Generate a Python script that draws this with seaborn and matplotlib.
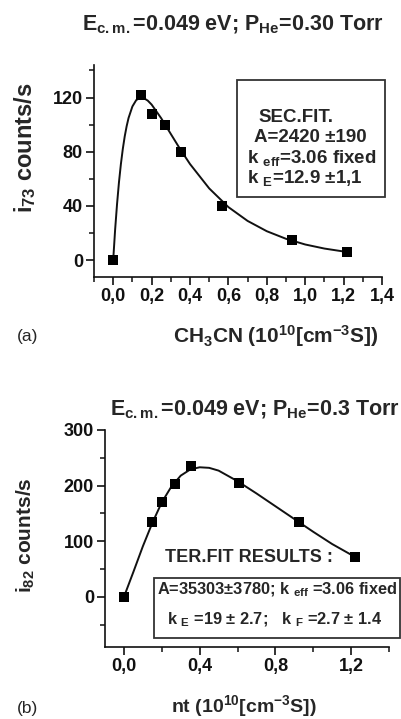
import matplotlib
matplotlib.use("Agg")
import matplotlib.pyplot as plt
import seaborn as sns
from matplotlib.patches import Rectangle
from matplotlib.ticker import MultipleLocator, FixedLocator

# ---------------- data ----------------
# panel (a)
a_x = [0.0, 0.145, 0.2, 0.27, 0.355, 0.565, 0.93, 1.22]
a_y = [0, 122, 108, 100, 80, 40, 15, 6]
a_fit_x = [0, 0.01, 0.02, 0.03, 0.04, 0.05, 0.06, 0.07, 0.08, 0.10, 0.12, 0.14, 0.16,
           0.18, 0.20, 0.25, 0.30, 0.35, 0.40, 0.50, 0.60, 0.70, 0.80, 0.90, 1.00, 1.10, 1.22]
a_fit_y = [0, 22.4, 41.3, 57.4, 70.8, 82.0, 91.3, 98.8, 104.9, 113.4, 118.1, 119.8, 119.5,
           117.7, 114.8, 104.7, 93.1, 81.6, 70.9, 52.9, 39.1, 28.9, 21.3, 15.7, 11.5, 8.5, 5.9]
a_xticks = [0.0, 0.2, 0.4, 0.6, 0.8, 1.0, 1.2, 1.4]
a_xticklabels = ["0,0", "0,2", "0,4", "0,6", "0,8", "1,0", "1,2", "1,4"]
a_yticks = [0, 40, 80, 120]

# panel (b)
b_x = [0.0, 0.15, 0.2, 0.27, 0.355, 0.61, 0.925, 1.22]
b_y = [0, 135, 171, 203, 235, 204, 135, 72]
b_fit_x = [0, 0.05, 0.10, 0.15, 0.20, 0.25, 0.30, 0.35, 0.40, 0.45, 0.50, 0.60,
           0.70, 0.80, 0.90, 1.00, 1.10, 1.22]
b_fit_y = [0, 45, 91, 133, 170, 198, 218, 229, 233, 232, 227, 208,
           186, 163, 140, 117, 95, 72]
b_xticks = [0.0, 0.4, 0.8, 1.2]
b_xticklabels = ["0,0", "0,4", "0,8", "1,2"]
b_yticks = [0, 100, 200, 300]

# ---------------- style ----------------
sns.set_style("ticks")
plt.rcParams["font.family"] = ["Liberation Sans", "DejaVu Sans"]
plt.rcParams["font.weight"] = "bold"
plt.rcParams["mathtext.fontset"] = "custom"
plt.rcParams["mathtext.rm"] = "Liberation Sans:bold"
plt.rcParams["mathtext.bf"] = "Liberation Sans:bold"
plt.rcParams["mathtext.it"] = "Liberation Sans:bold"
plt.rcParams["mathtext.default"] = "rm"

W, H = 401, 719
fig = plt.figure(figsize=(W / 100, H / 100), dpi=100)
fig.patch.set_facecolor("white")


def fx(px):
    return px / W


def fy(py):
    return 1 - py / H


def axes_px(left, top, right, bottom):
    return fig.add_axes([fx(left), fy(bottom), (right - left) / W, (bottom - top) / H])


ink = "#111111"


def style_axes(ax):
    for s in ["top", "right"]:
        ax.spines[s].set_visible(False)
    for s in ["left", "bottom"]:
        ax.spines[s].set_linewidth(1.2)
        ax.spines[s].set_color(ink)
    ax.tick_params(which="major", direction="out", length=6, width=1.2, labelsize=13,
                   colors=ink, pad=2)
    ax.tick_params(which="minor", direction="out", length=3.5, width=1.1, colors=ink)
    ax.set_facecolor("white")


# ---------------- panel (a) ----------------
ax1 = axes_px(94, 65, 382, 277)
sns.lineplot(x=a_fit_x, y=a_fit_y, ax=ax1, color=ink, lw=1.4, sort=False)
sns.scatterplot(x=a_x, y=a_y, ax=ax1, marker="s", s=60, color="black",
                edgecolor="black", linewidth=0, zorder=3)
ax1.set_xlim(-0.1, 1.4)
ax1.set_ylim(-12.5, 144)
ax1.xaxis.set_major_locator(FixedLocator(a_xticks))
ax1.set_xticklabels(a_xticklabels, fontweight="bold")
ax1.xaxis.set_minor_locator(MultipleLocator(0.1))
ax1.yaxis.set_major_locator(FixedLocator(a_yticks))
ax1.set_yticklabels([str(v) for v in a_yticks], fontweight="bold")
ax1.yaxis.set_minor_locator(MultipleLocator(20))
style_axes(ax1)
ax1.set_xlabel(r"CH$_3$CN (10$^{10}$[cm$^{-3}$S])", fontsize=15, fontweight="bold")
ax1.xaxis.set_label_coords((276 - 94) / 288, -(336 - 277) / 212)
ax1.xaxis.label.set_va("center")
ax1.set_ylabel(r"i$_{73}$ counts/s", fontsize=17, fontweight="bold")
ax1.yaxis.set_label_coords((25 - 94) / 288, (277 - 148) / 212)
ax1.yaxis.label.set_va("center")

fig.text(fx(233), fy(25), r"E$_{\rm c.m.}$=0.049 eV; P$_{\rm He}$=0.30 Torr",
         fontsize=15.5, fontweight="bold", ha="center", va="center")
fig.text(fx(17), fy(336), "(a)", fontsize=12.5, fontweight="normal", ha="left", va="center")

fig.add_artist(Rectangle((fx(237), fy(197)), (385 - 237) / W, (197 - 80) / H,
                         transform=fig.transFigure, fill=False, lw=1.3, ec="#333333"))
fig.text(fx(258), fy(118), "SEC.FIT.", fontsize=13.5, ha="left", va="center")
fig.text(fx(254), fy(138), "A=2420 \u00b1190", fontsize=13.5, ha="left", va="center")
fig.text(fx(247), fy(158), r"k $_{\rm eff}$=3.06 fixed", fontsize=13.5, ha="left", va="center")
fig.text(fx(247), fy(178), r"k $_{\rm E}$=12.9 $\pm$1,1", fontsize=13.5, ha="left", va="center")

# ---------------- panel (b) ----------------
ax2 = axes_px(105, 430, 389, 647)
sns.lineplot(x=b_fit_x, y=b_fit_y, ax=ax2, color=ink, lw=1.4, sort=False)
sns.scatterplot(x=b_x, y=b_y, ax=ax2, marker="s", s=60, color="black",
                edgecolor="black", linewidth=0, zorder=3)
ax2.set_xlim(-0.1, 1.4)
ax2.set_ylim(-90, 300)
ax2.xaxis.set_major_locator(FixedLocator(b_xticks))
ax2.set_xticklabels(b_xticklabels, fontweight="bold")
ax2.xaxis.set_minor_locator(FixedLocator([0.2, 0.6, 1.0, 1.4]))
ax2.yaxis.set_major_locator(FixedLocator(b_yticks))
ax2.set_yticklabels([str(v) for v in b_yticks], fontweight="bold")
ax2.yaxis.set_minor_locator(MultipleLocator(50))
style_axes(ax2)
ax2.set_xlabel(r"nt (10$^{10}$[cm$^{-3}$S])", fontsize=14, fontweight="bold")
ax2.xaxis.set_label_coords((244 - 105) / 284, -(706 - 647) / 217)
ax2.xaxis.label.set_va("center")
ax2.set_ylabel(r"i$_{82}$ counts/s", fontsize=15, fontweight="bold")
ax2.yaxis.set_label_coords((26 - 105) / 284, (647 - 535) / 217)
ax2.yaxis.label.set_va("center")

fig.text(fx(255), fy(410), r"E$_{\rm c.m.}$=0.049 eV; P$_{\rm He}$=0.3 Torr",
         fontsize=15.5, fontweight="bold", ha="center", va="center")
fig.text(fx(17), fy(708), "(b)", fontsize=12.5, fontweight="normal", ha="left", va="center")

fig.text(fx(165), fy(557), "TER.FIT RESULTS :", fontsize=13, ha="left", va="center")
fig.add_artist(Rectangle((fx(154), fy(638)), (400 - 154) / W, (638 - 578) / H,
                         transform=fig.transFigure, fill=False, lw=1.3, ec="#333333"))
fig.text(fx(157), fy(590), r"A=35303$\pm$3780; k $_{\rm eff}$ =3.06 fixed",
         fontsize=11.8, ha="left", va="center")
fig.text(fx(167), fy(620), r"k $_{\rm E}$ =19 $\pm$ 2.7;   k $_{\rm F}$ =2.7 $\pm$ 1.4",
         fontsize=11.8, ha="left", va="center")

fig.savefig("out.png", dpi=100, facecolor="white")
